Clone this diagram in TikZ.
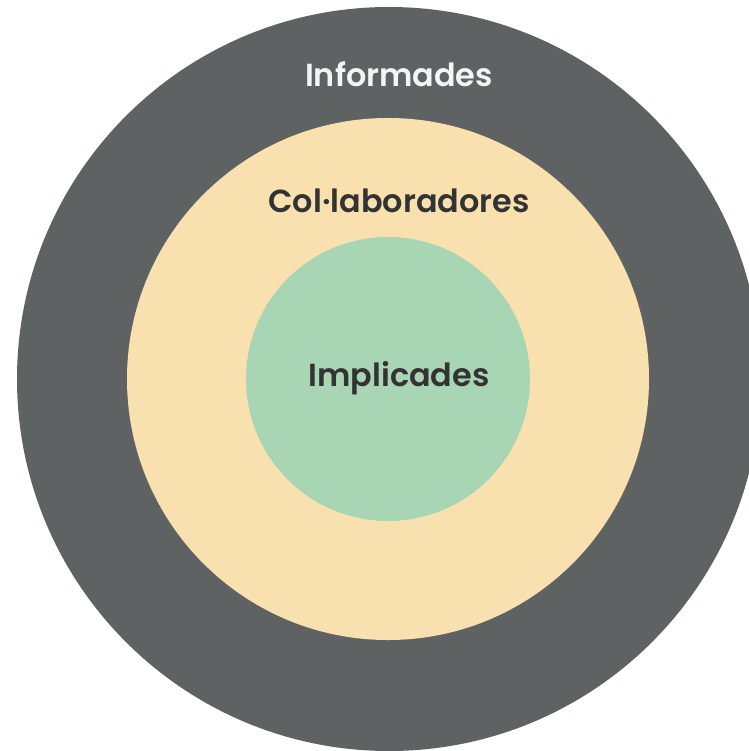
\documentclass[tikz,border=0pt]{standalone}
\usepackage{fontspec}
\setmainfont{Poppins}[UprightFont=* SemiBold, BoldFont=* Bold]
\definecolor{ringgrey}{HTML}{5F6262}
\definecolor{ringyellow}{HTML}{F9E1AF}
\definecolor{ringgreen}{HTML}{A8D5B3}
\definecolor{textdark}{HTML}{333333}
\definecolor{textlight}{HTML}{F4F4F4}
\begin{document}
\begin{tikzpicture}[x=1bp,y=-1bp,
  ring/.style={circle,inner sep=0pt,minimum size=#1},
  label/.style={font=\fontsize{32}{36}\selectfont,inner sep=0pt,anchor=center}]
\useasboundingbox (0,0) rectangle (749,751);
\begin{scope}
\clip (0,0) rectangle (749,751);
\node[ring=744bp,fill=ringgrey] (outer) at (389,379) {};
\end{scope}
\node[ring=522bp,fill=ringyellow] (middle) at (388,379) {};
\node[ring=284bp,fill=ringgreen] (inner) at (388,379) {};
\node[label,text=textlight] (inf) at (399,74) {Informades};
\node[label,text=textdark] (col) at (399,201) {Col·laboradores};
\node[label,text=textdark] (imp) at (399,378) {Implicades};
\end{tikzpicture}
\end{document}
